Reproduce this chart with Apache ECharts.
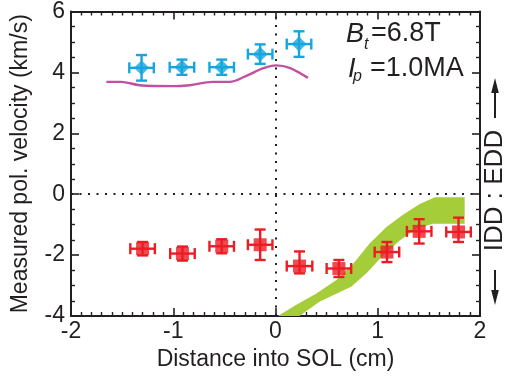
<!DOCTYPE html>
<html><head><meta charset="utf-8">
<script src="https://cdn.jsdelivr.net/npm/echarts@6/dist/echarts.min.js"></script>
<style>html,body{margin:0;padding:0;background:#fff}#c{width:507px;height:377px}</style>
</head><body><div id="c"></div>
<script>
// ---- data ----
const xTickValues = [-2, -1, 0, 1, 2];
const xTickLabels = ['-2', '-1', '0', '1', '2'];
const yTickValues = [-4, -2, 0, 2, 4, 6];
const yTickLabels = ['-4', '-2', '0', '2', '4', '6'];

const blueX = [-1.31, -0.915, -0.526, -0.15, 0.23];
const blueY = [4.15, 4.17, 4.17, 4.60, 4.93];
const blueXErr = [0.12, 0.12, 0.12, 0.12, 0.12];
const blueYErr = [0.42, 0.25, 0.25, 0.32, 0.42];

const redX = [-1.30, -0.91, -0.526, -0.15, 0.235, 0.62, 1.09, 1.405, 1.79];
const redY = [-1.79, -1.95, -1.71, -1.66, -2.36, -2.44, -1.90, -1.22, -1.24];
const redXErr = [0.12, 0.12, 0.12, 0.12, 0.125, 0.12, 0.12, 0.12, 0.12];
const redYErrUp = [0.22, 0.23, 0.23, 0.50, 0.48, 0.28, 0.33, 0.40, 0.47];
const redYErrDown = [0.22, 0.23, 0.23, 0.50, 0.24, 0.28, 0.33, 0.40, 0.33];

const purpleX = [-1.654, -1.51, -1.33, -1.007, -0.84, -0.615, -0.45, -0.29, -0.125, 0.005, 0.137, 0.317];
const purpleY = [3.69, 3.69, 3.58, 3.55, 3.58, 3.69, 3.69, 3.88, 4.13, 4.23, 4.15, 3.82];

const bandUpperX = [0.023, 0.20, 0.40, 0.595, 0.76, 0.92, 1.085, 1.25, 1.41, 1.56, 1.85];
const bandUpperY = [-4.0, -3.64, -3.26, -2.82, -2.28, -1.62, -1.08, -0.67, -0.32, -0.10, -0.10];
const bandLowerX = [0.235, 0.43, 0.63, 0.74, 0.89, 1.05, 1.215, 1.38, 1.54, 1.85];
const bandLowerY = [-4.0, -3.53, -3.21, -3.04, -2.60, -2.01, -1.52, -1.13, -0.97, -0.97];

// ---- styles ----
const BLUE = '#16a6de', RED = '#ec1c24', PURPLE = '#c2509f', GREEN = '#a5cd39', INK = '#231f20';
const FONT = '"Liberation Sans", Arial, Helvetica, sans-serif';

function errData(xs, ys, xe, yeUp, yeDown) {
  return xs.map((x, i) => [x, ys[i], x - xe[i], x + xe[i], ys[i] - yeDown[i], ys[i] + yeUp[i]]);
}
function makeErrRender(color) {
  return function (params, api) {
    const x = api.value(0), y = api.value(1);
    const c = api.coord([x, y]);
    const xl = api.coord([api.value(2), y])[0], xh = api.coord([api.value(3), y])[0];
    const yl = api.coord([x, api.value(4)])[1], yh = api.coord([x, api.value(5)])[1];
    const cap = 5.5;
    const st = { stroke: color, lineWidth: 2.4, fill: null };
    const L = (x1, y1, x2, y2) => ({ type: 'line', shape: { x1, y1, x2, y2 }, style: st });
    return { type: 'group', children: [
      L(xl, c[1], xh, c[1]), L(c[0], yl, c[0], yh),
      L(xl, c[1] - cap, xl, c[1] + cap), L(xh, c[1] - cap, xh, c[1] + cap),
      L(c[0] - cap, yl, c[0] + cap, yl), L(c[0] - cap, yh, c[0] + cap, yh)
    ] };
  };
}

const axisCommon = {
  axisLine: { show: true, onZero: false, lineStyle: { color: INK, width: 2 } },
  axisTick: { show: true, inside: true, length: 8, lineStyle: { color: INK, width: 1.6 } },
  minorTick: { show: true, length: 4, lineStyle: { color: INK, width: 1.4 } },
  splitLine: { show: false }
};

const chart = echarts.init(document.getElementById('c'), null, { renderer: 'canvas' });
chart.setOption({
  animation: false,
  backgroundColor: '#fff',
  grid: { left: 71, right: 27, top: 10, bottom: 61 },
  xAxis: [
    Object.assign({}, axisCommon, {
      type: 'value', min: -2, max: 2, interval: 1, position: 'bottom',
      minorTick: Object.assign({}, axisCommon.minorTick, { splitNumber: 10 }),
      axisLabel: { fontSize: 23, fontFamily: FONT, color: INK, margin: 4,
        formatter: v => xTickLabels[xTickValues.indexOf(v)] },
      name: 'Distance into SOL (cm)', nameLocation: 'middle', nameGap: 29,
      nameTextStyle: { fontSize: 23, fontFamily: FONT, color: INK }
    }),
    Object.assign({}, axisCommon, {
      type: 'value', min: -2, max: 2, interval: 1, position: 'top',
      minorTick: Object.assign({}, axisCommon.minorTick, { splitNumber: 10 }),
      axisLabel: { show: false }
    })
  ],
  yAxis: [
    Object.assign({}, axisCommon, {
      type: 'value', min: -4, max: 6, interval: 2, position: 'left',
      minorTick: Object.assign({}, axisCommon.minorTick, { splitNumber: 4 }),
      axisLabel: { fontSize: 23, fontFamily: FONT, color: INK, margin: 6,
        formatter: v => yTickLabels[yTickValues.indexOf(v)] },
      name: 'Measured pol. velocity (km/s)', nameLocation: 'middle', nameGap: 39,
      nameTextStyle: { fontSize: 23, fontFamily: FONT, color: INK }
    }),
    Object.assign({}, axisCommon, {
      type: 'value', min: -4, max: 6, interval: 2, position: 'right',
      minorTick: Object.assign({}, axisCommon.minorTick, { splitNumber: 4 }),
      axisLabel: { show: false }
    })
  ],
  series: [
    {
      type: 'custom', name: 'band', data: [[0]], clip: true, z: 1,
      renderItem: function (params, api) {
        const pts = [];
        bandUpperX.forEach((x, i) => pts.push(api.coord([x, bandUpperY[i]])));
        for (let i = bandLowerX.length - 1; i >= 0; i--) pts.push(api.coord([bandLowerX[i], bandLowerY[i]]));
        return { type: 'polygon', shape: { points: pts }, style: { fill: GREEN, stroke: null } };
      }
    },
    {
      type: 'line', name: 'zero', data: [], z: 2,
      markLine: {
        silent: true, symbol: 'none', label: { show: false },
        lineStyle: { color: INK, type: [2, 6.5], width: 2 },
        data: [{ xAxis: 0 }, { yAxis: 0 }]
      }
    },
    {
      type: 'line', name: 'model', data: purpleX.map((x, i) => [x, purpleY[i]]),
      smooth: 0.35, showSymbol: false, symbol: 'none', z: 3,
      lineStyle: { color: PURPLE, width: 2.4 }
    },
    {
      type: 'custom', name: 'blueErr', z: 4,
      data: errData(blueX, blueY, blueXErr, blueYErr, blueYErr),
      renderItem: makeErrRender(BLUE)
    },
    {
      type: 'custom', name: 'redErr', z: 4,
      data: errData(redX, redY, redXErr, redYErrUp, redYErrDown),
      renderItem: makeErrRender(RED)
    },
    {
      type: 'scatter', name: 'EDD', z: 5, symbol: 'diamond', symbolSize: [15, 15],
      data: blueX.map((x, i) => [x, blueY[i]]), itemStyle: { color: BLUE }
    },
    {
      type: 'scatter', name: 'IDD', z: 5, symbol: 'rect', symbolSize: [13, 13],
      data: redX.map((x, i) => [x, redY[i]]), itemStyle: { color: RED }
    }
  ],
  graphic: [
    { type: 'text', x: 346, y: 34, style: { text: 'B', font: 'italic 27px ' + FONT, fill: INK, verticalAlign: 'middle' } },
    { type: 'text', x: 364, y: 45, style: { text: 't', font: 'italic 16px ' + FONT, fill: INK, verticalAlign: 'middle' } },
    { type: 'text', x: 371, y: 34, style: { text: '=6.8T', font: '27px ' + FONT, fill: INK, verticalAlign: 'middle' } },
    { type: 'text', x: 348, y: 69, style: { text: 'I', font: 'italic 27px ' + FONT, fill: INK, verticalAlign: 'middle' } },
    { type: 'text', x: 353, y: 77, style: { text: 'p', font: 'italic 16px ' + FONT, fill: INK, verticalAlign: 'middle' } },
    { type: 'text', x: 370, y: 69, style: { text: '=1.0MA', font: '27px ' + FONT, fill: INK, verticalAlign: 'middle' } },
    { type: 'text', x: 495, y: 190.5, rotation: Math.PI / 2,
      style: { text: 'IDD : EDD', font: '26px ' + FONT, fill: INK, align: 'center', verticalAlign: 'middle' } },
    { type: 'line', shape: { x1: 495, y1: 118, x2: 495, y2: 90 }, style: { stroke: INK, lineWidth: 2 } },
    { type: 'polygon', shape: { points: [[495, 78], [491.2, 93], [498.8, 93]] }, style: { fill: INK } },
    { type: 'line', shape: { x1: 495, y1: 270, x2: 495, y2: 293 }, style: { stroke: INK, lineWidth: 2 } },
    { type: 'polygon', shape: { points: [[495, 305], [491.2, 290], [498.8, 290]] }, style: { fill: INK } }
  ]
});
</script>
</body></html>
